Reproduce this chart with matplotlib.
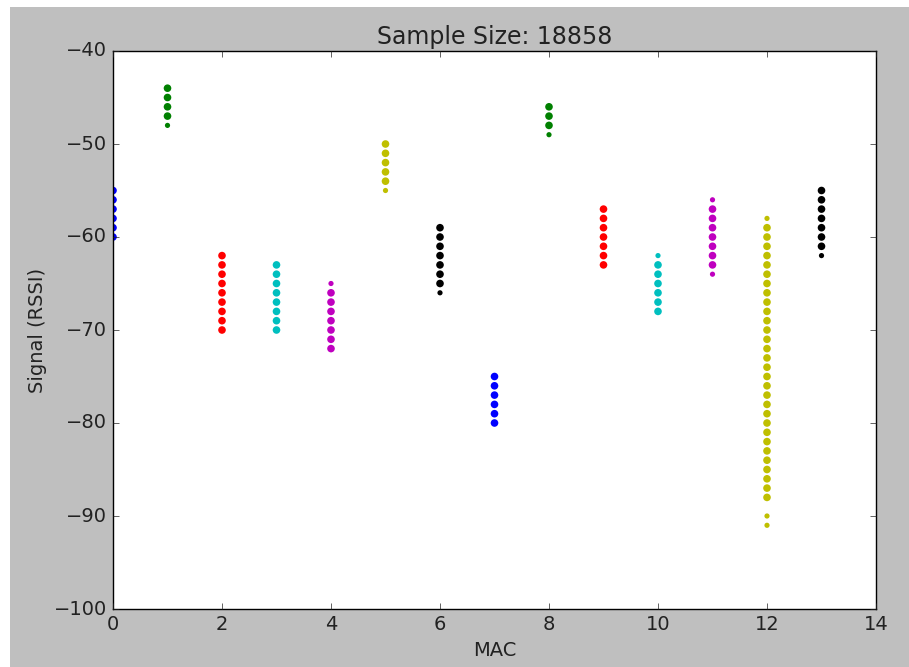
import numpy as np
import matplotlib
matplotlib.use('Agg')
import matplotlib.pyplot as plt
from matplotlib.patches import Rectangle

# RSSI readings seen for each MAC index (dBm)
mac_ids = list(range(14))
rssi = [
    list(range(-55, -61, -1)),                    # 0
    list(range(-44, -49, -1)),                    # 1
    list(range(-62, -71, -1)),                    # 2
    list(range(-63, -71, -1)),                    # 3
    list(range(-65, -73, -1)),                    # 4
    list(range(-50, -56, -1)),                    # 5
    list(range(-59, -67, -1)),                    # 6
    list(range(-75, -81, -1)),                    # 7
    list(range(-46, -50, -1)),                    # 8
    list(range(-57, -64, -1)),                    # 9
    list(range(-62, -69, -1)),                    # 10
    list(range(-56, -65, -1)),                    # 11
    list(range(-58, -89, -1)) + [-90, -91],       # 12
    list(range(-55, -63, -1)),                    # 13
]
# readings that only show up a few times (drawn smaller)
rare = [(1, -48), (4, -65), (5, -55), (6, -66), (8, -49), (10, -62),
        (11, -56), (11, -64), (12, -58), (12, -90), (12, -91), (13, -62)]
sample_size = 18858
colors = ['b', 'g', 'r', 'c', 'm', 'y', 'k']

plt.style.use('classic')
fig = plt.figure(figsize=(9.09, 6.67), dpi=100, facecolor='white')
# screenshot border: grey figure area with thin white strip top/left
fig.patches.append(Rectangle((10 / 909, 0), 1, 1 - 7 / 667, transform=fig.transFigure,
                             facecolor='#bfbfbf', edgecolor='none', zorder=-10))
ax = fig.add_axes([113 / 909, 1 - 609 / 667, (876 - 113) / 909, (609 - 51) / 667])

for m in mac_ids:
    vals = rssi[m]
    sizes = [14 if (m, v) in rare else 30 for v in vals]
    ax.scatter([m] * len(vals), vals, s=sizes, c=colors[m % 7], linewidths=0)

ax.set_xlim(0, 14)
ax.set_ylim(-100, -40)
ax.set_xticks(range(0, 15, 2))
ax.set_yticks(range(-100, -39, 10))
ax.tick_params(labelsize=14, colors='#222222')
ax.set_xlabel('MAC', fontsize=14, color='#222222')
ax.set_ylabel('Signal (RSSI)', fontsize=14, color='#222222')
ax.set_title('Sample Size: %d' % sample_size, fontsize=17, color='#222222')

fig.savefig('out.png', dpi=100, facecolor=fig.get_facecolor())
